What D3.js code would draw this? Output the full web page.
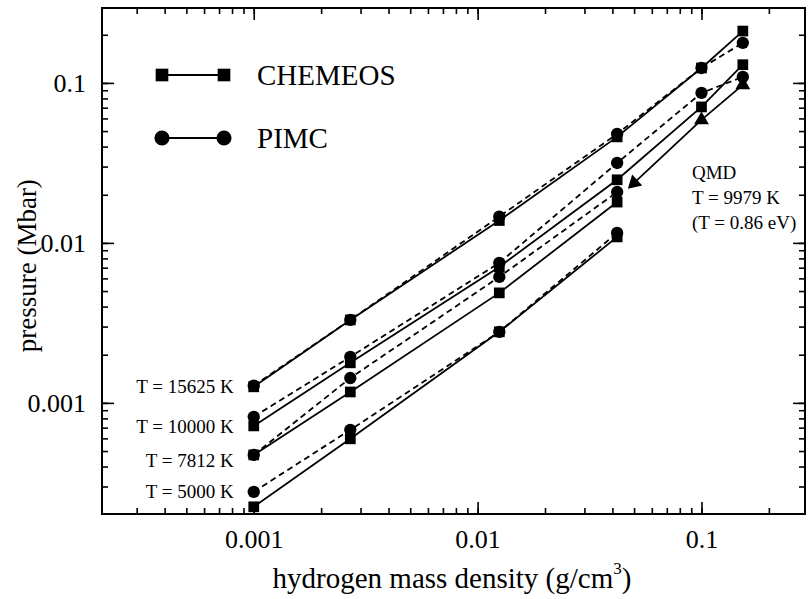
<!DOCTYPE html>
<html>
<head>
<meta charset="utf-8">
<script src="https://cdn.jsdelivr.net/npm/d3@7"></script>
<style>
  body { margin: 0; background: #fff; }
  svg text { font-family: "Liberation Serif", "DejaVu Serif", "Times New Roman", serif; }
</style>
</head>
<body>
<div id="chart"></div>
<script>
// densities (g/cm^3) shared by the CHEMEOS / PIMC isotherms
const density = [0.001, 0.0027, 0.0125, 0.042, 0.1, 0.153];

// pressure (Mbar)
const chemeos15625 = [0.00126, 0.0033, 0.0138, 0.046, 0.124, 0.211];
const pimc15625    = [0.00128, 0.0033, 0.0146, 0.048, 0.124, 0.178];
const chemeos10000 = [0.000718, 0.00178, 0.00708, 0.0248, 0.0708, 0.13];
const pimc10000    = [0.000818, 0.00194, 0.0075, 0.0316, 0.0866, 0.109];
const chemeos7812  = [0.000473, 0.00117, 0.00487, 0.018];
const pimc7812     = [0.000473, 0.00143, 0.00613, 0.0208];
const chemeos5000  = [0.000224, 0.000596, 0.00278, 0.0109];
const pimc5000     = [0.000278, 0.000678, 0.00278, 0.01155];

const qmdDensity  = [0.05, 0.1, 0.153];
const qmdPressure = [0.0237, 0.0587, 0.0972];

const tempLabels = ["T = 15625 K", "T = 10000 K", "T = 7812 K", "T = 5000 K"];
const majorTicks = [0.001, 0.01, 0.1];

const W = 809, H = 599;
const margin = { top: 8, right: 4, bottom: 85, left: 102 };
const width = W - margin.left - margin.right;
const height = H - margin.top - margin.bottom;

const svg = d3.select("#chart").append("svg")
  .attr("width", W).attr("height", H);
const g = svg.append("g")
  .attr("transform", `translate(${margin.left},${margin.top})`);

const x = d3.scaleLog().domain([2.1e-4, 0.29]).range([0, width]);
const y = d3.scaleLog().domain([2.02e-4, 0.294]).range([height, 0]);

// frame
g.append("rect")
  .attr("width", width).attr("height", height)
  .attr("fill", "none").attr("stroke", "#000").attr("stroke-width", 2);

// ticks on all four sides, pointing inward
const fmt = d => String(d);
function addAxis(axisFn, scale, tx, ty, labelled) {
  const minor = g.append("g").attr("transform", `translate(${tx},${ty})`)
    .call(axisFn(scale).tickValues(scale.ticks()).tickSize(-6).tickFormat(""));
  const major = g.append("g").attr("transform", `translate(${tx},${ty})`)
    .call(axisFn(scale).tickValues(majorTicks).tickSize(-12).tickPadding(14)
      .tickFormat(labelled ? fmt : ""));
  [minor, major].forEach(a => {
    a.attr("font-family", null);
    a.select(".domain").remove();
    a.selectAll("line").attr("stroke", "#000").attr("stroke-width", 1.6);
  });
  return major;
}
const xb = addAxis(d3.axisBottom, x, 0, height, true);
addAxis(d3.axisTop, x, 0, 0, false);
const yl = addAxis(d3.axisLeft, y, 0, 0, true);
addAxis(d3.axisRight, y, width, 0, false);

xb.selectAll("text").attr("font-size", 26).attr("fill", "#000").attr("dy", "0.75em");
yl.selectAll("text").attr("font-size", 26).attr("fill", "#000").attr("dx", "-2");

// axis titles
const xt = svg.append("text")
  .attr("x", 452).attr("y", 588)
  .attr("text-anchor", "middle").attr("font-size", 29);
xt.append("tspan").text("hydrogen mass density (g/cm");
xt.append("tspan").attr("font-size", 17).attr("dy", -14).text("3");
xt.append("tspan").attr("dy", 14).text(")");

svg.append("text")
  .attr("transform", `translate(36,${margin.top + y(0.0072)}) rotate(-90)`)
  .attr("text-anchor", "middle").attr("font-size", 27)
  .text("pressure (Mbar)");

// series
const series = [
  { p: chemeos15625, dash: null, sym: "square" },
  { p: pimc15625, dash: "6,4", sym: "circle" },
  { p: chemeos10000, dash: null, sym: "square" },
  { p: pimc10000, dash: "6,4", sym: "circle" },
  { p: chemeos7812, dash: null, sym: "square" },
  { p: pimc7812, dash: "6,4", sym: "circle" },
  { p: chemeos5000, dash: null, sym: "square" },
  { p: pimc5000, dash: "6,4", sym: "circle" }
];

const line = d3.line().x(d => x(d[0])).y(d => y(d[1]));

series.forEach(s => {
  s.pts = s.p.map((v, i) => [density[i], v]);
  g.append("path").datum(s.pts)
    .attr("d", line).attr("fill", "none").attr("stroke", "#000")
    .attr("stroke-width", 1.8)
    .attr("stroke-dasharray", s.dash);
});

const qmd = qmdDensity.map((d, i) => [d, qmdPressure[i]]);
g.append("path").datum(qmd)
  .attr("d", line).attr("fill", "none").attr("stroke", "#000").attr("stroke-width", 1.8);

const sq = d3.symbol().type(d3.symbolSquare).size(115);
const ci = d3.symbol().type(d3.symbolCircle).size(120);
const tri = d3.symbol().type(d3.symbolTriangle).size(95);

series.forEach(s => {
  g.selectAll(null).data(s.pts).enter().append("path")
    .attr("d", s.sym === "square" ? sq : ci)
    .attr("transform", d => `translate(${x(d[0])},${y(d[1])})`)
    .attr("fill", "#000");
});
g.selectAll(null).data(qmd).enter().append("path")
  .attr("d", tri)
  .attr("transform", (d, i) => `translate(${x(d[0])},${y(d[1])}) rotate(${i === 0 ? -133 : 0})`)
  .attr("fill", "#000");

// temperature labels at the left end of each isotherm
const labelAt = [chemeos15625[0], chemeos10000[0], chemeos7812[0], pimc5000[0]];
const labelDy = [0, 0, 5, 0];
tempLabels.forEach((t, i) => {
  g.append("text")
    .attr("x", x(0.001) - 20)
    .attr("y", y(labelAt[i]) + labelDy[i])
    .attr("dy", "0.35em")
    .attr("text-anchor", "end").attr("font-size", 19)
    .text(t);
});

// QMD annotation
const qmdLines = ["QMD", "T = 9979 K", "(T = 0.86 eV)"];
qmdLines.forEach((t, i) => {
  svg.append("text")
    .attr("x", 692).attr("y", 179 + i * 25)
    .attr("font-size", 19).text(t);
});

// legend
const legendSq = d3.symbol().type(d3.symbolSquare).size(160);
const legendCi = d3.symbol().type(d3.symbolCircle).size(180);
const legend = [
  { label: "CHEMEOS", sym: legendSq, y: 75 },
  { label: "PIMC", sym: legendCi, y: 138 }
];
legend.forEach(l => {
  svg.append("line").attr("x1", 162).attr("x2", 224)
    .attr("y1", l.y).attr("y2", l.y)
    .attr("stroke", "#000").attr("stroke-width", 1.8);
  [162, 224].forEach(px => {
    svg.append("path").attr("d", l.sym())
      .attr("transform", `translate(${px},${l.y})`).attr("fill", "#000");
  });
  svg.append("text").attr("x", 257).attr("y", l.y).attr("dy", "0.35em")
    .attr("font-size", 29).text(l.label);
});
</script>
</body>
</html>
